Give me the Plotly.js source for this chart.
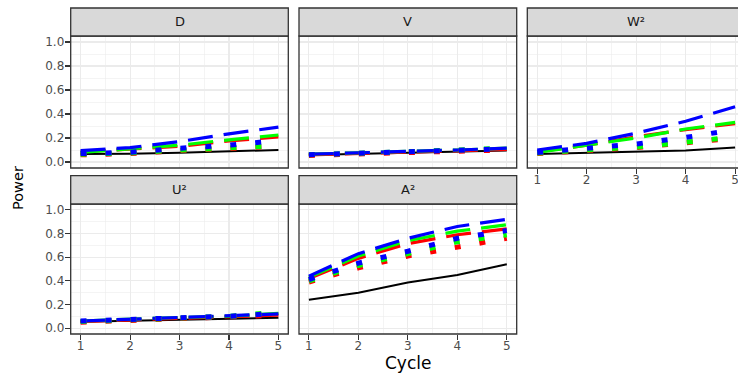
<!DOCTYPE html>
<html>
<head>
<meta charset="utf-8">
<script src="https://cdn.plot.ly/plotly-3.0.1.min.js"></script>
<style>
  html, body { margin: 0; padding: 0; overflow: hidden; background: #ffffff; }
  #chart { width: 746px; height: 375px; }
</style>
</head>
<body>
<div id="chart"></div>
<script>
// ---------------- data ----------------
const cycles = [1, 2, 3, 4, 5];
const panels = ['D', 'V', 'W²', 'U²', 'A²'];
const xTickLabels = ['1', '2', '3', '4', '5'];
const yTickLabels = ['0.0', '0.2', '0.4', '0.6', '0.8', '1.0'];

// rows follow panel order: D, V, W², U², A²
const blackSolid = [
  [0.067, 0.068, 0.078, 0.087, 0.100],
  [0.058, 0.066, 0.075, 0.085, 0.095],
  [0.067, 0.077, 0.086, 0.095, 0.120],
  [0.053, 0.060, 0.068, 0.078, 0.087],
  [0.240, 0.300, 0.385, 0.450, 0.540]
];
const redLong = [
  [0.085, 0.105, 0.130, 0.175, 0.210],
  [0.060, 0.070, 0.085, 0.095, 0.105],
  [0.085, 0.140, 0.210, 0.270, 0.320],
  [0.055, 0.070, 0.085, 0.095, 0.110],
  [0.420, 0.590, 0.715, 0.790, 0.840]
];
const greenLong = [
  [0.080, 0.110, 0.140, 0.185, 0.225],
  [0.065, 0.075, 0.090, 0.100, 0.115],
  [0.080, 0.140, 0.200, 0.275, 0.330],
  [0.060, 0.078, 0.090, 0.100, 0.125],
  [0.430, 0.610, 0.740, 0.820, 0.875]
];
const blueLong = [
  [0.095, 0.120, 0.170, 0.235, 0.290],
  [0.065, 0.075, 0.090, 0.100, 0.115],
  [0.100, 0.155, 0.240, 0.340, 0.460],
  [0.060, 0.075, 0.090, 0.100, 0.120],
  [0.440, 0.630, 0.760, 0.860, 0.920]
];
const redDot = [
  [0.060, 0.070, 0.095, 0.110, 0.130],
  [0.055, 0.070, 0.080, 0.090, 0.100],
  [0.070, 0.090, 0.120, 0.160, 0.200],
  [0.050, 0.065, 0.080, 0.090, 0.110],
  [0.390, 0.510, 0.610, 0.690, 0.760]
];
const greenDot = [
  [0.065, 0.075, 0.100, 0.115, 0.135],
  [0.060, 0.070, 0.085, 0.100, 0.115],
  [0.075, 0.095, 0.125, 0.165, 0.210],
  [0.055, 0.070, 0.085, 0.100, 0.135],
  [0.400, 0.530, 0.630, 0.730, 0.790]
];
const blueDot = [
  [0.070, 0.080, 0.115, 0.140, 0.180],
  [0.060, 0.070, 0.085, 0.095, 0.110],
  [0.080, 0.110, 0.150, 0.205, 0.270],
  [0.060, 0.070, 0.085, 0.100, 0.125],
  [0.410, 0.550, 0.650, 0.760, 0.825]
];

// ---------------- layout geometry (pixels) ----------------
const W = 746, H = 375;
const colX = [[70.7, 288.3], [299, 516.7], [527.3, 745]];
const rowY = [[36, 168], [204, 334]];           // panel areas
const stripY = [[8, 36], [175.7, 204]];         // strips
const panelPos = [[0, 0], [0, 1], [0, 2], [1, 0], [1, 1]]; // [row, col]

const FONT = '"DejaVu Sans", "Liberation Sans", Arial, sans-serif';
const GRID = '#EBEBEB';
const DARK = '#333333';

const fx = px => px / W;
const fy = py => 1 - py / H;

const seriesDefs = [
  { data: blackSolid, color: '#000000', width: 2, dash: 'solid' },
  { data: redLong, color: '#FF0000', width: 3.2, dash: '25px,11px' },
  { data: greenLong, color: '#00FF00', width: 3.2, dash: '25px,11px' },
  { data: blueLong, color: '#0000FF', width: 3.2, dash: '25px,11px' },
  { data: redDot, color: '#FF0000', width: 5, dash: '6px,19px' },
  { data: greenDot, color: '#00FF00', width: 5, dash: '6px,19px' },
  { data: blueDot, color: '#0000FF', width: 5, dash: '6px,19px' }
];

const traces = [];
const layout = {
  width: W, height: H,
  margin: { l: 0, r: 0, t: 0, b: 0 },
  paper_bgcolor: '#ffffff',
  plot_bgcolor: '#ffffff',
  showlegend: false,
  font: { family: FONT, color: '#4D4D4D' },
  shapes: [],
  annotations: []
};

panels.forEach((name, i) => {
  const [r, c] = panelPos[i];
  const n = i + 1;
  const xa = 'x' + (n === 1 ? '' : n);
  const ya = 'y' + (n === 1 ? '' : n);

  seriesDefs.forEach(s => {
    traces.push({
      type: 'scatter', mode: 'lines',
      x: cycles, y: s.data[i],
      xaxis: xa, yaxis: ya,
      line: { color: s.color, width: s.width, dash: s.dash },
      hoverinfo: 'skip'
    });
  });

  const showX = (r === 1) || (i === 2);
  const showY = (c === 0);

  layout['xaxis' + (n === 1 ? '' : n)] = {
    domain: [fx(colX[c][0]), fx(colX[c][1])],
    anchor: ya,
    range: [0.8, 5.2],
    tickmode: 'array', tickvals: cycles, ticktext: xTickLabels,
    showgrid: true, gridcolor: GRID, gridwidth: 1.1,
    minor: { tickmode: 'array', tickvals: [1.5, 2.5, 3.5, 4.5], showgrid: true, gridcolor: GRID, gridwidth: 0.55, ticks: '' },
    zeroline: false, showline: false,
    ticks: showX ? 'outside' : '', ticklen: 5, tickwidth: 1.1, tickcolor: DARK,
    showticklabels: showX, ticklabelstandoff: -4,
    tickfont: { family: FONT, size: 12, color: '#4D4D4D' }
  };
  layout['yaxis' + (n === 1 ? '' : n)] = {
    domain: [fy(rowY[r][1]), fy(rowY[r][0])],
    anchor: xa,
    range: [-0.05, 1.05],
    tickmode: 'array', tickvals: [0, 0.2, 0.4, 0.6, 0.8, 1.0], ticktext: yTickLabels,
    showgrid: true, gridcolor: GRID, gridwidth: 1.1,
    minor: { tickmode: 'array', tickvals: [0.1, 0.3, 0.5, 0.7, 0.9], showgrid: true, gridcolor: GRID, gridwidth: 0.55, ticks: '' },
    zeroline: false, showline: false,
    ticks: showY ? 'outside' : '', ticklen: 5, tickwidth: 1.1, tickcolor: DARK,
    showticklabels: showY, ticklabelstandoff: -2,
    tickfont: { family: FONT, size: 12, color: '#4D4D4D' }
  };

  // panel border
  layout.shapes.push({
    type: 'rect', xref: 'paper', yref: 'paper', layer: 'above',
    x0: fx(colX[c][0]), x1: fx(colX[c][1]),
    y0: fy(rowY[r][1]), y1: fy(rowY[r][0]),
    line: { color: DARK, width: 1.3 }, fillcolor: 'rgba(0,0,0,0)'
  });
  // strip
  layout.shapes.push({
    type: 'rect', xref: 'paper', yref: 'paper', layer: 'above',
    x0: fx(colX[c][0]), x1: fx(colX[c][1]),
    y0: fy(stripY[r][1]), y1: fy(stripY[r][0]),
    line: { color: DARK, width: 1.3 }, fillcolor: '#D9D9D9'
  });
  layout.annotations.push({
    xref: 'paper', yref: 'paper',
    x: fx((colX[c][0] + colX[c][1]) / 2), y: fy((stripY[r][0] + stripY[r][1]) / 2),
    xanchor: 'center', yanchor: 'middle', showarrow: false,
    text: name, font: { family: FONT, size: 13, color: '#1A1A1A' }
  });
});

// axis titles
layout.annotations.push({
  xref: 'paper', yref: 'paper', x: fx(408), y: fy(363),
  xanchor: 'center', yanchor: 'middle', showarrow: false,
  text: 'Cycle', font: { family: FONT, size: 17, color: '#000000' }
});
layout.annotations.push({
  xref: 'paper', yref: 'paper', x: fx(18), y: fy(188),
  xanchor: 'center', yanchor: 'middle', showarrow: false, textangle: -90,
  text: 'Power', font: { family: FONT, size: 14.5, color: '#000000' }
});

Plotly.newPlot('chart', traces, layout, { staticPlot: true, displayModeBar: false });
</script>
</body>
</html>
